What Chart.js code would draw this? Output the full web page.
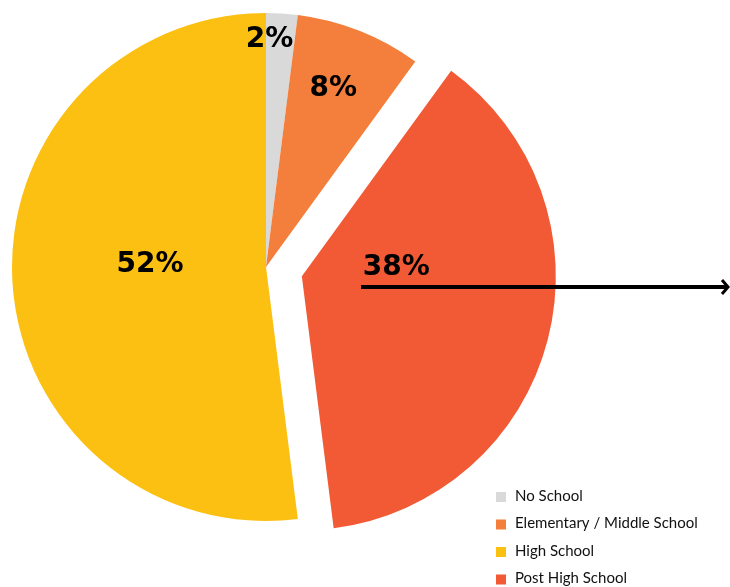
<!DOCTYPE html>
<html>
<head>
<meta charset="utf-8">
<script src="https://cdn.jsdelivr.net/npm/chart.js@4.4.1/dist/chart.umd.min.js"></script>
<style>
  html, body { margin: 0; padding: 0; background: #fff; }
  #wrap { width: 730px; height: 587px; }
</style>
</head>
<body>
<div id="wrap"><canvas id="chart-education" width="730" height="587"></canvas></div>
<script>
// Niveaux d'études — parts en %, dans l'ordre horaire du camembert
const categories = ['No School', 'Elementary / Middle School', 'Post High School', 'High School'];
const shares = [2, 8, 38, 52];
const sliceColors = ['#d9d9d9', '#f47e3b', '#f15a34', '#fbc012'];
// ordre de la légende (différent de l'ordre des parts)
const legendOrder = ['No School', 'Elementary / Middle School', 'High School', 'Post High School'];

// ── Réglages visuels ─────────────────────────────────────────────────────────
const EXPLODED = categories.indexOf('Post High School');
const EXPLODE_DIST = 37;
// position des étiquettes, en fraction du rayon, depuis le centre de la part
const labelAnchors = [[0.014, -0.905], [0.265, -0.712], [0.372, -0.045], [-0.457, -0.02]];
const labelFont = 'bold 28px "DejaVu Sans", sans-serif';
const legendFont = '15px Lato, sans-serif';

// Part détachée : on dessine nous-mêmes les arcs pour décaler celui-là
const explodePlugin = {
    id: 'explode',
    beforeDatasetDraw(chart, args) {
        const ctx = chart.ctx;
        args.meta.data.forEach((arc, i) => {
            ctx.save();
            if (i === EXPLODED) {
                const mid = (arc.startAngle + arc.endAngle) / 2;
                ctx.translate(Math.cos(mid) * EXPLODE_DIST, Math.sin(mid) * EXPLODE_DIST);
            }
            arc.draw(ctx);
            ctx.restore();
        });
        return false;
    },
};

// Pourcentages + flèche + légende maison
const labelsPlugin = {
    id: 'sliceLabels',
    afterDatasetsDraw(chart) {
        const ctx = chart.ctx;
        const meta = chart.getDatasetMeta(0);
        ctx.save();
        ctx.fillStyle = '#000';
        ctx.font = labelFont;
        ctx.textAlign = 'center';
        ctx.textBaseline = 'alphabetic';
        meta.data.forEach((arc, i) => {
            let cx = arc.x, cy = arc.y;
            if (i === EXPLODED) {
                const mid = (arc.startAngle + arc.endAngle) / 2;
                cx += Math.cos(mid) * EXPLODE_DIST;
                cy += Math.sin(mid) * EXPLODE_DIST;
            }
            const [fx, fy] = labelAnchors[i];
            ctx.fillText(shares[i] + '%', cx + fx * arc.outerRadius, cy + fy * arc.outerRadius + 10);
        });

        // flèche
        ctx.strokeStyle = '#000';
        ctx.lineWidth = 4;
        ctx.beginPath();
        ctx.moveTo(361, 287);
        ctx.lineTo(726, 287);
        ctx.stroke();
        ctx.lineWidth = 3;
        ctx.beginPath();
        ctx.moveTo(722, 280);
        ctx.lineTo(728, 287);
        ctx.lineTo(722, 294);
        ctx.stroke();

        // légende
        ctx.font = legendFont;
        ctx.textAlign = 'left';
        ctx.textBaseline = 'middle';
        legendOrder.forEach((name, k) => {
            const y = 496 + k * 27.5;
            ctx.fillStyle = sliceColors[categories.indexOf(name)];
            ctx.fillRect(496, y - 4, 10, 10);
            ctx.fillStyle = '#111';
            ctx.fillText(name, 515, y);
        });
        ctx.restore();
    },
};

new Chart(document.getElementById('chart-education'), {
    type: 'pie',
    data: {
        labels: categories,
        datasets: [{
            data: shares,
            backgroundColor: sliceColors,
            borderWidth: 0,
            clip: false,
        }],
    },
    options: {
        responsive: false,
        animation: false,
        radius: 254,
        layout: { padding: { left: 0, right: 198, top: 0, bottom: 53 } },
        plugins: {
            legend: { display: false },
            tooltip: { enabled: false },
        },
    },
    plugins: [explodePlugin, labelsPlugin],
});
</script>
</body>
</html>
